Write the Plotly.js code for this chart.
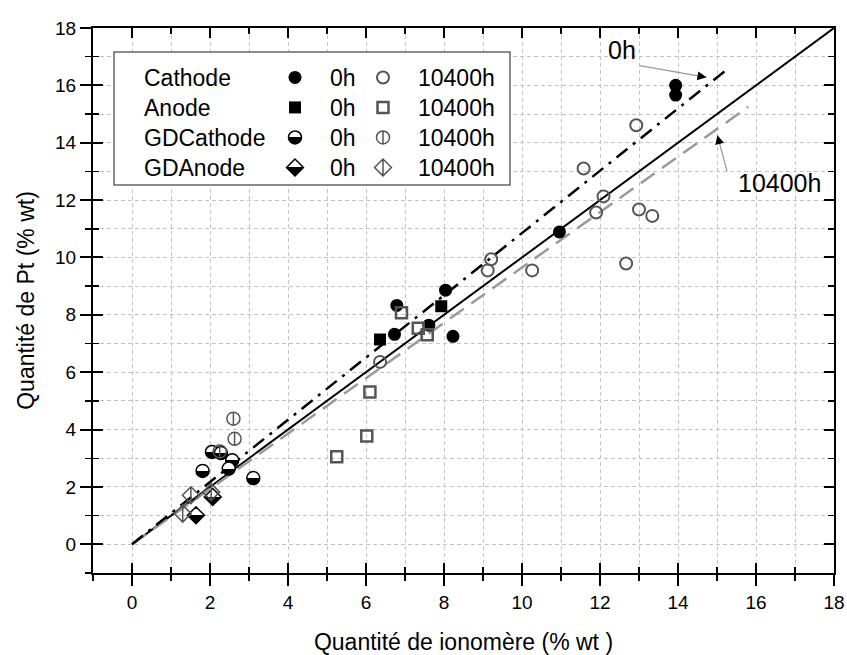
<!DOCTYPE html>
<html><head><meta charset="utf-8">
<script src="https://cdn.plot.ly/plotly-3.0.1.min.js"></script>
<style>html,body{margin:0;padding:0;background:#fff}</style>
</head><body><div id="chart" style="width:847px;height:655px"></div>
<script>
// ---- data ----
const cathode0X = [13.94, 13.94, 10.96, 8.04, 6.79, 6.73, 7.61, 8.23];
const cathode0Y = [16.00, 15.66, 10.89, 8.86, 8.33, 7.32, 7.64, 7.25];
const anode0X = [6.36, 7.93];
const anode0Y = [7.14, 8.30];
const cathode104X = [12.93, 11.58, 12.09, 11.90, 13.00, 13.34, 12.67, 10.26, 9.21, 9.12, 6.36];
const cathode104Y = [14.61, 13.10, 12.13, 11.57, 11.67, 11.45, 9.79, 9.55, 9.94, 9.55, 6.36];
const anode104X = [6.91, 7.34, 7.57, 6.10, 6.02, 5.25];
const anode104Y = [8.07, 7.53, 7.31, 5.31, 3.78, 3.05];
const gdCathode0X = [2.05, 2.28, 2.57, 2.48, 1.81, 3.11];
const gdCathode0Y = [3.22, 3.18, 2.93, 2.64, 2.56, 2.31];
const gdCathode104X = [2.60, 2.63, 2.25];
const gdCathode104Y = [4.38, 3.68, 3.24];
const gdAnode0X = [2.07, 1.64];
const gdAnode0Y = [1.65, 1.01];
const gdAnode104X = [1.51, 1.30, 2.03];
const gdAnode104Y = [1.71, 1.07, 1.82];
// fitted lines
const lineAllX = [0, 18], lineAllY = [0, 18];
const line0hX = [0, 15.25], line0hY = [0, 16.55];
const line104X = [0, 15.8], line104Y = [0, 15.25];
const seriesNames = ['Cathode', 'Anode', 'GDCathode', 'GDAnode'];
const timeLabels = ['0h', '10400h'];

const FONT = 'Liberation Sans, Arial, sans-serif';
const GRAY = '#555555';
const LEG_FONT = 23;

// legend layout (paper coords): four rows, two marker columns
const rowPx = [78, 108, 138, 168];
const plotTop = 28, plotH = 545, plotLeft = 93, plotW = 741;
const toPaperX = px => (px - plotLeft) / plotW;
const toPaperY = py => (plotTop + plotH - py) / plotH;
const col0Left = toPaperX(260), col1Left = toPaperX(348);

const markerDefs = [
  [{symbol: 'circle', size: 13, color: '#000'},
   {symbol: 'circle-open', size: 12, color: GRAY, line: {width: 2}}],
  [{symbol: 'square', size: 12, color: '#000'},
   {symbol: 'square-open', size: 11, color: GRAY, line: {width: 2.5}}],
  [{symbol: 'circle', size: 13, color: '#fff', gradient: {type: 'vertical', color: '#000'}, line: {color: '#000', width: 1.5}},
   {symbol: 'circle-cross-open', size: 13, color: GRAY, line: {width: 1.5}}],
  [{symbol: 'diamond', size: 13, color: '#fff', gradient: {type: 'vertical', color: '#000'}, line: {color: '#000', width: 1.5}},
   {symbol: 'diamond-cross-open', size: 13, color: GRAY, line: {width: 1.5}}]
];
const seriesXY = [
  [[cathode0X, cathode0Y], [cathode104X, cathode104Y]],
  [[anode0X, anode0Y], [anode104X, anode104Y]],
  [[gdCathode0X, gdCathode0Y], [gdCathode104X, gdCathode104Y]],
  [[gdAnode0X, gdAnode0Y], [gdAnode104X, gdAnode104Y]]
];

const traces = [
  {x: lineAllX, y: lineAllY, mode: 'lines', line: {color: '#000', width: 2}, showlegend: false, hoverinfo: 'skip'},
  {x: line104X, y: line104Y, mode: 'lines', line: {color: '#9a9a9a', width: 2.5, dash: '17px,9px'}, showlegend: false, hoverinfo: 'skip'},
  {x: line0hX, y: line0hY, mode: 'lines', line: {color: '#000', width: 2.5, dash: '14px,7px,3px,7px'}, showlegend: false, hoverinfo: 'skip'}
];
const layoutLegends = {};
let legIdx = 1;
for (let t = 0; t < 2; t++) {
  for (let s = 0; s < 4; s++) {
    const key = legIdx === 1 ? 'legend' : 'legend' + legIdx;
    traces.push({
      x: seriesXY[s][t][0], y: seriesXY[s][t][1], name: timeLabels[t], legend: key,
      mode: 'markers', marker: markerDefs[s][t]
    });
    layoutLegends[key] = {
      x: t === 0 ? col0Left : col1Left, xanchor: 'left',
      y: toPaperY(rowPx[s] - 22), yanchor: 'top',
      bgcolor: 'rgba(0,0,0,0)', borderwidth: 0, itemwidth: 60,
      font: {size: LEG_FONT, family: FONT}
    };
    legIdx++;
  }
}
// helper empty trace for the inward-tick overlay axes
traces.push({x: [], y: [], xaxis: 'x2', yaxis: 'y2', showlegend: false, hoverinfo: 'skip'});

const minorGrid = {dtick: 1, tick0: 0, ticks: 'outside', ticklen: 6, tickwidth: 1.5, tickcolor: '#000',
  showgrid: true, gridcolor: '#c4c4c4', griddash: '4px,3px', gridwidth: 1};
const baseAxis = {
  range: [-1, 18], tick0: 0, dtick: 2, ticks: 'outside', ticklen: 11, tickwidth: 2, tickcolor: '#000',
  showline: true, linewidth: 2, linecolor: '#000', mirror: true, zeroline: false,
  showgrid: true, gridcolor: '#c4c4c4', griddash: '4px,3px', gridwidth: 1,
  minor: minorGrid, tickfont: {size: 19, family: FONT}
};
const inwardAxis = {range: [-1, 18], tick0: 0, dtick: 2,
  ticks: 'inside', ticklen: 10, tickwidth: 2, tickcolor: '#000', mirror: 'ticks', showline: false,
  showticklabels: false, showgrid: false, zeroline: false,
  minor: {dtick: 1, tick0: 0, ticks: 'inside', ticklen: 6, tickwidth: 1.5, tickcolor: '#000'}};

const layout = Object.assign({
  width: 847, height: 655,
  margin: {l: 93, r: 13, t: 28, b: 82},
  paper_bgcolor: '#fff', plot_bgcolor: '#fff',
  font: {family: FONT, color: '#000'},
  showlegend: true,
  xaxis: Object.assign({}, baseAxis, {
    title: {text: 'Quantité de ionomère (% wt )', font: {size: 23, family: FONT}, standoff: 22}}),
  yaxis: Object.assign({}, baseAxis, {
    title: {text: 'Quantité de Pt (% wt)', font: {size: 23, family: FONT}, standoff: 14}}),
  xaxis2: Object.assign({}, inwardAxis, {overlaying: 'x', anchor: 'y2', side: 'bottom'}),
  yaxis2: Object.assign({}, inwardAxis, {overlaying: 'y', anchor: 'x2', side: 'left'}),
  shapes: [
    {type: 'rect', xref: 'paper', yref: 'paper', x0: toPaperX(114), x1: toPaperX(510), y0: toPaperY(185), y1: toPaperY(52),
     line: {color: '#666', width: 1.5}, fillcolor: '#fff', layer: 'above'}
  ],
  annotations: seriesNames.map((n, i) => ({
    text: n, xref: 'paper', yref: 'paper', x: toPaperX(142), y: toPaperY(rowPx[i]), xanchor: 'left', yanchor: 'middle',
    showarrow: false, font: {size: LEG_FONT, family: FONT}
  })).concat([
    {text: '0h', x: 12.56, y: 17.22, xref: 'x', yref: 'y', showarrow: false, font: {size: 25, family: FONT}},
    {text: '', x: 14.73, y: 16.28, ax: 12.98, ay: 16.70, axref: 'x', ayref: 'y', xref: 'x', yref: 'y',
     showarrow: true, arrowhead: 0, arrowwidth: 1.2, arrowcolor: '#999'},
    {text: '', x: 14.73, y: 16.28, ax: -10, ay: -1.7, xref: 'x', yref: 'y',
     showarrow: true, arrowhead: 2, arrowsize: 1.2, arrowwidth: 1.5, arrowcolor: '#000'},
    {text: '10400h', x: 16.6, y: 12.59, xref: 'x', yref: 'y', showarrow: false, font: {size: 25, family: FONT}},
    {text: '', x: 15.01, y: 14.26, ax: 15.27, ay: 12.94, axref: 'x', ayref: 'y', xref: 'x', yref: 'y',
     showarrow: true, arrowhead: 0, arrowwidth: 1.2, arrowcolor: '#999'},
    {text: '', x: 15.01, y: 14.26, ax: 2.5, ay: 9.7, xref: 'x', yref: 'y',
     showarrow: true, arrowhead: 2, arrowsize: 1.2, arrowwidth: 1.5, arrowcolor: '#000'}
  ])
}, layoutLegends);

function sharpen() {
  // half-filled markers: make the vertical gradient a sharp half split
  document.querySelectorAll('#chart linearGradient').forEach(g => {
    g.querySelectorAll('stop').forEach(s => s.setAttribute('offset', '50%'));
  });
  // circle/diamond with a single vertical bar: drop the horizontal bar from the cross symbols
  document.querySelectorAll('#chart path.point, #chart path.scatterpts').forEach(p => {
    const d = p.getAttribute('d');
    if (!d) return;
    const nd = d.replace(/M([\d.]+),0H-\1(?=M)/, '').replace(/M-([\d.]+),0H\1$/, '');
    if (nd !== d) p.setAttribute('d', nd);
  });
}

Plotly.newPlot('chart', traces, layout, {staticPlot: true}).then(sharpen);
</script>
</body></html>
